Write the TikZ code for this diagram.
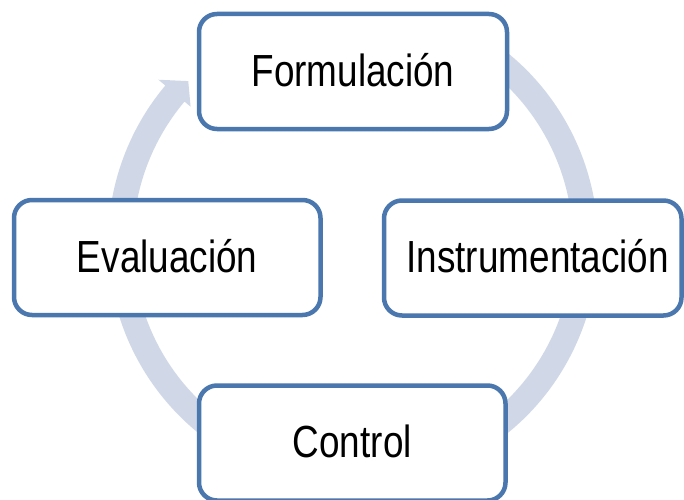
\documentclass[tikz,border=0pt]{standalone}
\usepackage{fontspec}
\setmainfont{Liberation Sans}[FakeStretch=0.82]
\usetikzlibrary{calc}
\definecolor{ringc}{RGB}{208,216,232}
\definecolor{boxc}{RGB}{74,119,174}
\begin{document}
\begin{tikzpicture}[x=1pt,y=1pt,
  stagebox/.style={draw=boxc, line width=4.5pt, fill=white, rounded corners=18pt,
    rectangle, inner sep=0pt, minimum height=115pt, text height=29.5pt, text depth=0pt,
    font=\fontsize{45}{49}\selectfont, text=black}]
\clip (0,0) rectangle (684,499);
\fill[white] (0,0) rectangle (684,499);
% ring centre
\coordinate (C) at (353,256);
% circular arrow
\fill[ringc] ($(C)+(65:245)$) arc[start angle=65, end angle=-220, radius=245]
  -- ($(C)+(140:254)$) -- ($(C)+(135.5:231)$) -- ($(C)+(140:212)$)
  -- ($(C)+(140:220)$) arc[start angle=-220, end angle=65, radius=220] -- cycle;
% stages
\node[stagebox, minimum width=308pt] (F) at (353,427.5) {Formulación};
\node[stagebox, minimum width=297.5pt] (I) at (532.75,241) {\hspace*{10pt}Instrumentación};
\node[stagebox, minimum width=306.5pt] (E) at (167.25,241.5) {Evaluación};
\node[stagebox, minimum width=306.5pt] (K) at (352.25,56) {Control};
\end{tikzpicture}
\end{document}
